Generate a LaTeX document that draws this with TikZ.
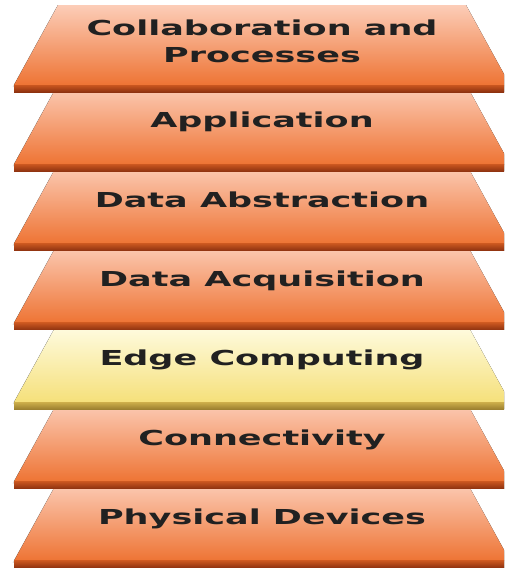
\documentclass[tikz,border=0pt]{standalone}
\usepackage{fontspec}
\newfontfamily\layerfont{DejaVu Sans}[FakeStretch=1.7]
\usetikzlibrary{shadows}
\definecolor{peachtop}{HTML}{FCCDB8}
\definecolor{orangebot}{HTML}{EE7434}
\definecolor{orangefront}{HTML}{C9561F}
\definecolor{orangefrontlow}{HTML}{8E3210}
\definecolor{yellowtop}{HTML}{FFFDE6}
\definecolor{yellowbot}{HTML}{F5E07A}
\definecolor{yellowfront}{HTML}{CDAE4A}
\definecolor{yellowfrontlow}{HTML}{9C8030}
\tikzstyle{slab} = [drop shadow={opacity=0.25, shadow xshift=-1.5pt, shadow yshift=-2pt}]
\tikzstyle{caption} = [font=\layerfont\bfseries\fontsize{20.6}{27}\selectfont,
  text=black!87, align=center, anchor=base]
\newcommand{\layer}[5]{ %
  % One slab with its lower front edge at y = #1.
  \fill[slab, top color=#2, bottom color=#3]
    (58,#1-87) -- (466,#1-87) -- (510,#1-7) -- (14,#1-7) -- cycle;
  \fill[top color=#4, bottom color=#5] (14,#1-7) rectangle (510,#1);
}

\begin{document}
\begin{tikzpicture}[x=1pt, y=-1pt]
  \useasboundingbox (0,0) rectangle (504,568);
  \clip (0,0) rectangle (504,568);
  % slabs, bottom first
  \layer{567.8}{peachtop}{orangebot}{orangefront}{orangefrontlow}
  \layer{488.5}{peachtop}{orangebot}{orangefront}{orangefrontlow}
  \layer{409.2}{yellowtop}{yellowbot}{yellowfront}{yellowfrontlow}
  \layer{329.9}{peachtop}{orangebot}{orangefront}{orangefrontlow}
  \layer{250.6}{peachtop}{orangebot}{orangefront}{orangefrontlow}
  \layer{171.3}{peachtop}{orangebot}{orangefront}{orangefrontlow}
  \layer{92}{peachtop}{orangebot}{orangefront}{orangefrontlow}

  \node[caption] (collab) at (262,62) {Collaboration and\\Processes};
  \node[caption] (app) at (262,127.8) {Application};
  \node[caption] (abstr) at (262,207.1) {Data Abstraction};
  \node[caption] (acq) at (262,286.4) {Data Acquisition};
  \node[caption] (edge) at (262,365.7) {Edge Computing};
  \node[caption] (conn) at (262,445) {Connectivity};
  \node[caption] (phys) at (262,524.3) {Physical Devices};
\end{tikzpicture}
\end{document}
